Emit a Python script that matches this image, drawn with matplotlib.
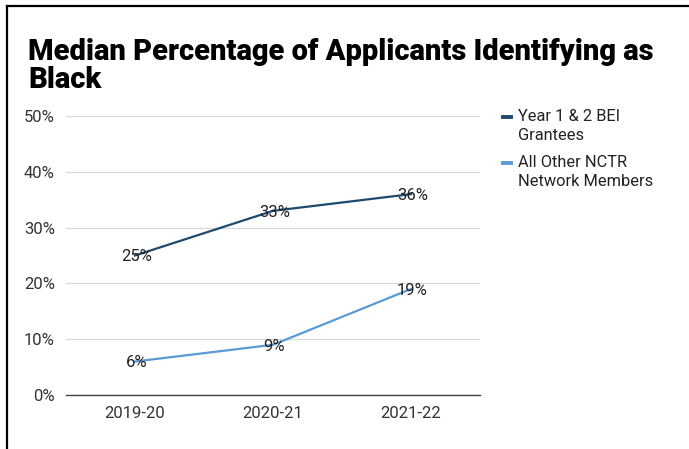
import matplotlib
matplotlib.use("Agg")
import matplotlib.pyplot as plt
from matplotlib.lines import Line2D

plt.rcParams["font.family"] = ["Roboto", "DejaVu Sans"]

# ---- data ----
years = ["2019-20", "2020-21", "2021-22"]
bei_grantees = [25, 33, 36]
other_members = [6, 9, 19]
series_names = ["Year 1 & 2 BEI\nGrantees", "All Other NCTR\nNetwork Members"]
y_ticks = [0, 10, 20, 30, 40, 50]

DARK = "#1d4a6e"
LIGHT = "#5b9bd5"
TEXT = "#222222"

W, H = 689, 449
fig = plt.figure(figsize=(W / 100, H / 100), dpi=100)
ax = fig.add_axes([66 / W, 1 - 395 / H, (480 - 66) / W, (395 - 116) / H])

x = range(len(years))
for vals, color in [(bei_grantees, DARK), (other_members, LIGHT)]:
    ax.plot(x, vals, color=color, lw=1.6, zorder=3)
    for xi, v in zip(x, vals):
        ax.annotate(f"{v}%", (xi, v), xytext=(1, -1), textcoords="offset points",
                    ha="center", va="center", fontsize=12, color=TEXT, zorder=4)

ax.set_xlim(-0.5, len(years) - 0.5)
ax.set_ylim(0, 50)
ax.set_yticks(y_ticks)
ax.set_yticklabels([f"{t}%" for t in y_ticks])
ax.set_xticks(list(x))
ax.set_xticklabels(years)
ax.tick_params(length=0, labelsize=12, colors="#333333")
ax.tick_params(axis="y", pad=8)
ax.tick_params(axis="x", pad=8)
ax.grid(axis="y", color="#d9d9d9", lw=0.9)
ax.set_axisbelow(True)
for s in ["top", "right", "left"]:
    ax.spines[s].set_visible(False)
ax.spines["bottom"].set_color("#444444")
ax.spines["bottom"].set_linewidth(1.0)

# title
fig.text(28 / W, 1 - 38 / H, "Median Percentage of Applicants Identifying as\nBlack",
         ha="left", va="top", fontsize=21, fontweight="black", color="black",
         linespacing=1.0)

# legend
for i, (name, color) in enumerate(zip(series_names, [DARK, LIGHT])):
    ytop = 1 - (109 + i * 46) / H
    yl = 1 - (117 + i * 46) / H
    fig.add_artist(Line2D([503 / W, 511 / W], [yl, yl], color=color, lw=2.8,
                          transform=fig.transFigure))
    fig.text(518 / W, ytop, name, ha="left", va="top", fontsize=11.8,
             color=TEXT, linespacing=1.3)

# frame lines on top and left
fig.add_artist(Line2D([7 / W, 1], [1 - 6 / H, 1 - 6 / H], color="black", lw=1.6,
                      transform=fig.transFigure))
fig.add_artist(Line2D([7 / W, 7 / W], [1 - 6 / H, 0], color="black", lw=1.6,
                      transform=fig.transFigure))

fig.savefig("out.png", dpi=100, facecolor="white")
